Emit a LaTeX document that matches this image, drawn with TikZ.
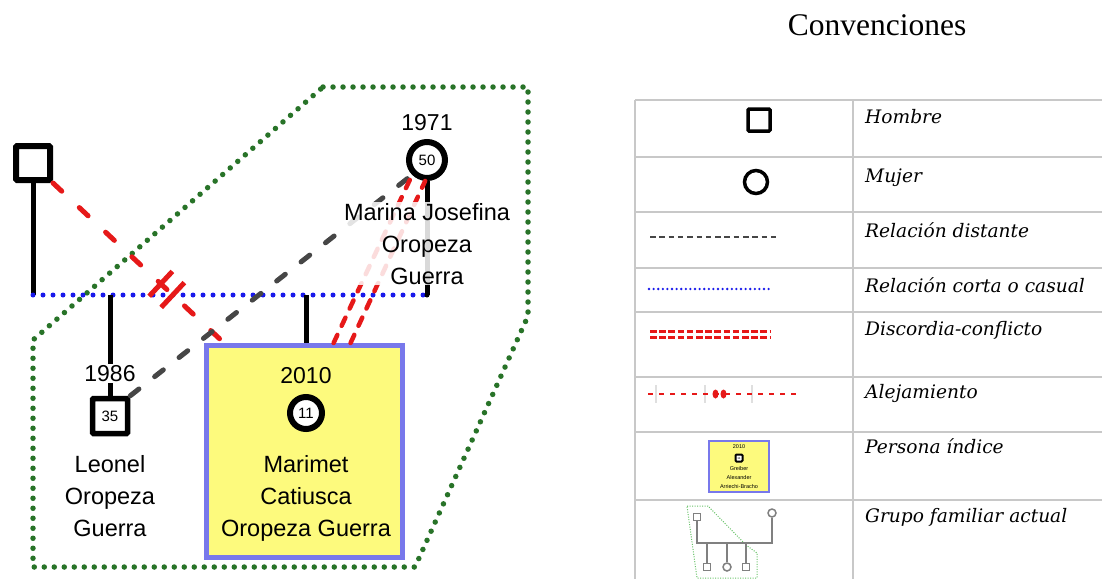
\documentclass[tikz,border=0pt]{standalone}
\usepackage{fontspec}
\setmainfont{Liberation Serif}
\newfontfamily\arialf{Liberation Sans}
\newfontfamily\legf{DejaVu Serif}
\usetikzlibrary{positioning, calc}

\definecolor{grupoverde}{RGB}{40,115,40}
\definecolor{casualazul}{RGB}{25,25,235}
\definecolor{indicefondo}{RGB}{253,250,125}
\definecolor{indiceborde}{RGB}{120,120,235}
\definecolor{distgris}{RGB}{70,70,70}
\definecolor{conflicto}{RGB}{230,25,25}
\definecolor{tabla}{RGB}{200,200,200}

\begin{document}
\begin{tikzpicture}[x=1pt, y=-1pt,
    man/.style={rectangle, draw=black, line width=6pt, minimum size=34pt, inner sep=0pt,
                fill=white, rounded corners=1pt, font=\arialf\fontsize{15}{15}\selectfont},
    woman/.style={circle, draw=black, line width=6pt, minimum size=36pt, inner sep=0pt,
                fill=white, font=\arialf\fontsize{15}{15}\selectfont},
    indexbox/.style={rectangle, draw=indiceborde, fill=indicefondo, line width=5pt, inner sep=0pt},
    bond/.style={line width=5pt},
    casual/.style={casualazul, line width=5pt, line cap=round, dash pattern=on 0pt off 10pt},
    distant/.style={distgris, line width=5pt, line cap=round, dash pattern=on 11pt off 20pt},
    conflict/.style={conflicto, line width=5pt, line cap=round, dash pattern=on 12pt off 24pt},
    cutmark/.style={rectangle, fill=conflicto, minimum width=5pt, minimum height=34pt, inner sep=0pt, sloped},
    discord/.style={conflicto, line width=4.5pt, line cap=round, dash pattern=on 9pt off 10pt},
    family/.style={grupoverde, line width=5.5pt, line cap=round, dash pattern=on 0pt off 10pt},
    nametext/.style={font=\arialf\fontsize{23.5}{32}\selectfont, align=center, inner sep=1pt,
                fill=white, fill opacity=0.85, text opacity=1},
    year/.style={font=\arialf\fontsize{23}{23}\selectfont, inner sep=1pt, fill=white},
    legend/.style={font=\legf\itshape\fontsize{18.6}{20}\selectfont, anchor=base west, inner sep=0pt},
    mini/.style={gray, line width=1.5pt},
    minisq/.style={rectangle, draw=gray, line width=1.5pt, minimum size=7pt, inner sep=0pt, fill=white},
    minicirc/.style={circle, draw=gray, line width=1.5pt, minimum size=8pt, inner sep=0pt, fill=white}]

    \useasboundingbox (0,0) rectangle (1102,579);

    % Grupo familiar
    \draw[family] (323,87) -- (528,87) -- (528,316) -- (415,567) -- (33,567) -- (33,340) -- cycle;

    % Nodes
    \node[man] (padre) at (33,163) {};
    \node[woman] (marina) at (427,160) {50};
    \node[man, minimum size=35pt, line width=5.5pt] (leonel) at (110,416) {35};
    \node[indexbox, minimum width=196pt, minimum height=212pt] (indice) at (304.5,451.5) {};
    \node[woman, minimum size=32pt] (marimet) at (306,413) {11};

    \coordinate (uL) at (33,295);
    \coordinate (uR) at (427,295);
    \coordinate (corte) at ($(indice.north west)!0.1!(indice.north east)$);

    % Lines
    \draw[bond] (padre) -- (uL);
    \draw[bond] (marina) -- (uR);
    \draw[casual] (uL) -- (uR);
    \fill (uR) circle (2.5pt);
    \draw[bond] (uL -| leonel) -- (leonel);
    \draw[bond] (uL -| marimet) -- (indice.north -| marimet);

    \draw[conflict] (padre.south east) -- node[cutmark, pos=0.63] {} node[cutmark, pos=0.70] {} (corte);
    \draw[distant] (leonel.north east) -- (marina.south west);
    \draw[discord] (indice.75) -- (marina.225);
    \draw[discord] (indice.67) -- (marina.265);

    % Labels
    \node[year, above=7pt of marina] (anio71) {1971};
    \node[year, above=13pt of leonel] (anio86) {1986};
    \node[year, fill=none, above=9pt of marimet] (anio10) {2010};
    \node[nametext, anchor=north, below=21pt of marina] (nmarina) {Marina Josefina\\Oropeza\\Guerra};
    \node[nametext, anchor=north, below=18pt of leonel] (nleonel) {Leonel\\Oropeza\\Guerra};
    \node[nametext, fill=none, anchor=north, below=22pt of marimet] (nmarimet) {Marimet\\Catiusca\\Oropeza Guerra};

    % Convenciones
    \node[font=\fontsize{31.5}{31.5}\selectfont, anchor=base, inner sep=0pt] (titulo) at (877,35) {Convenciones};
    \foreach \y in {100,157,212,268,312,377,432,500}
        \draw[tabla, line width=1.5pt] (635,\y) -- (1102,\y);
    \draw[tabla, line width=1.5pt] (635,100) -- (635,579);
    \draw[tabla, line width=1.5pt] (853,100) -- (853,579);

    \node[man, minimum size=22pt, line width=3.5pt] (lhombre) at (759,120) {};
    \node[woman, minimum size=23pt, line width=3.5pt] (lmujer) at (756,182) {};
    \draw[distgris, line width=2pt, dash pattern=on 5.5pt off 3.8pt] (650,237) -- (780,237);
    \draw[casualazul, line width=2.6pt, line cap=round, dash pattern=on 0pt off 4.6pt] (649,289) -- (772,289);
    \draw[conflicto, line width=3pt, dash pattern=on 6.5pt off 2.7pt] (650,331) -- (770,331);
    \draw[conflicto, line width=3pt, dash pattern=on 6.5pt off 2.7pt] (650,337) -- (770,337);
    \foreach \x in {656,705,752}
        \draw[gray!25, line width=1.2pt] (\x,385) -- (\x,403);
    \draw[conflicto, line width=1.3pt, dash pattern=on 5pt off 6pt] (648,394) -- (797,394);
    \fill[conflicto] (715.5,394) ellipse (3pt and 4.5pt);
    \fill[conflicto] (723.5,394) ellipse (3pt and 4.5pt);

    \node[indexbox, line width=2pt, minimum width=60pt, minimum height=51pt] (lindice) at (739,466.5) {};
    \node[font=\arialf\fontsize{5.5}{6}\selectfont, inner sep=0pt] (lanio) at (739,447) {2010};
    \node[man, minimum size=7pt, line width=2pt, font=\arialf\fontsize{3}{3}\selectfont] (lcuadro) at (739,458) {11};
    \node[font=\arialf\fontsize{5.5}{9}\selectfont, align=center, anchor=north, inner sep=0pt] (lnombre) at (739,466)
        {Greiber\\Alexander\\Arriechi-Bracho};

    \draw[green!60!black!60, line width=1pt, dash pattern=on 1pt off 1.5pt]
        (687,506) -- (708,506) -- (746,545) -- (757,553) -- (757,578) -- (697,578) -- cycle;
    \coordinate (gl) at (697,543);
    \coordinate (gr) at (772,543);
    \node[minisq] (g1) at (697,517) {};
    \node[minicirc] (g2) at (772,513) {};
    \node[minisq] (h1) at (707,567) {};
    \node[minicirc] (h2) at (727,567) {};
    \node[minisq] (h3) at (746,567) {};
    \draw[mini] (g1) -- (gl) -- (gr) -- (g2);
    \foreach \c in {h1,h2,h3}
        \draw[mini] (\c) -- (\c |- gl);

    \node[legend] (thombre) at (865,123) {Hombre};
    \node[legend] (tmujer) at (865,182) {Mujer};
    \node[legend] (tdistante) at (865,237) {Relación distante};
    \node[legend] (tcasual) at (865,292) {Relación corta o casual};
    \node[legend] (tconflicto) at (865,335) {Discordia-conflicto};
    \node[legend] (talejamiento) at (865,398) {Alejamiento};
    \node[legend] (tindice) at (865,453) {Persona índice};
    \node[legend] (tgrupo) at (865,522) {Grupo familiar actual};

\end{tikzpicture}
\end{document}
